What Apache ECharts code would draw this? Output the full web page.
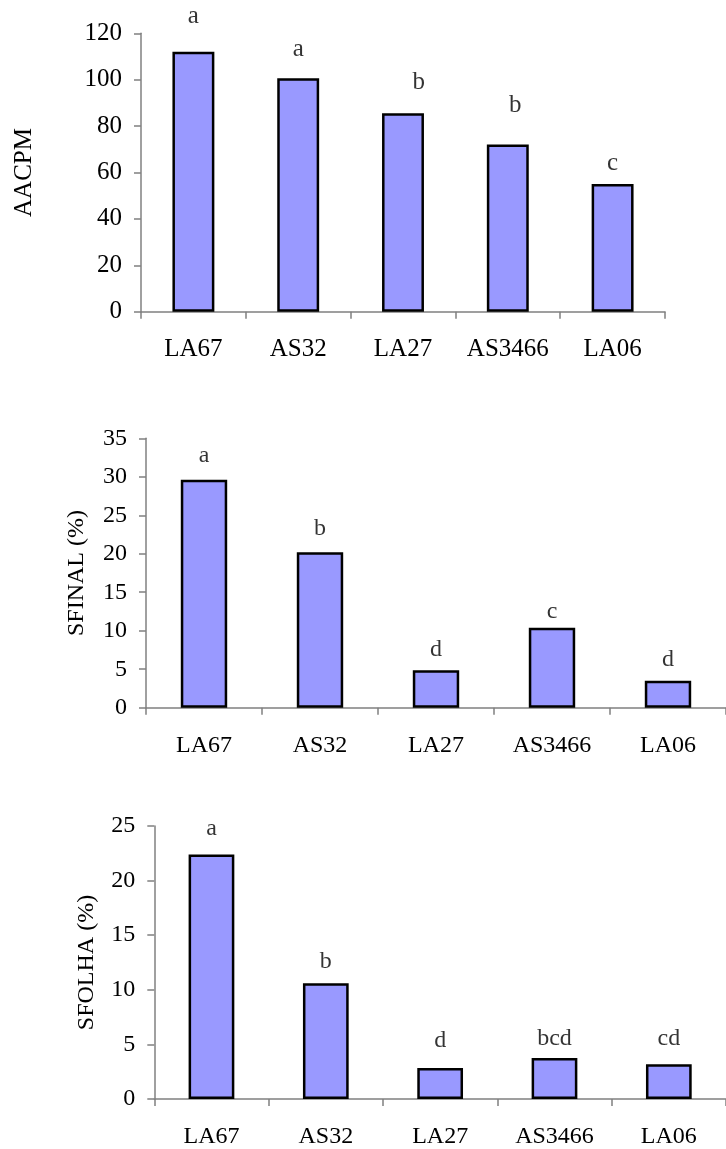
<!DOCTYPE html>
<html>
<head>
<meta charset="utf-8">
<script src="https://cdn.jsdelivr.net/npm/echarts@6/dist/echarts.min.js"></script>
<style>
html,body{margin:0;padding:0;background:#fff;}
#c{width:726px;height:1149px;}
</style>
</head>
<body>
<div id="c"></div>
<script>
const categories = ['LA67', 'AS32', 'LA27', 'AS3466', 'LA06'];

const aacpmValues = [112.1, 100.6, 85.5, 72.1, 55.0];
const sfinalValues = [29.6, 20.2, 4.85, 10.4, 3.5];
const sfolhaValues = [22.4, 10.6, 2.84, 3.75, 3.18];

const aacpmLetters = ['a', 'a', 'b', 'b', 'c'];
const sfinalLetters = ['a', 'b', 'd', 'c', 'd'];
const sfolhaLetters = ['a', 'b', 'd', 'bcd', 'cd'];

// letter positions (category index, value)
const aacpmLetterX = [0, 1, 2.15, 3.07, 4];
const aacpmLetterY = [127.1, 113.0, 98.9, 88.7, 63.9];
const sfinalLetterX = [0, 1, 2, 3, 4];
const sfinalLetterY = [32.7, 23.2, 7.5, 12.45, 6.2];
const sfolhaLetterX = [0, 1, 2, 3, 4];
const sfolhaLetterY = [24.76, 12.55, 5.3, 5.56, 5.56];

const yTicks1 = {min: 0, max: 120, interval: 20};
const yTicks2 = {min: 0, max: 35, interval: 5};
const yTicks3 = {min: 0, max: 25, interval: 5};

const FONT = '"Liberation Serif", "Times New Roman", serif';
const AXIS_COLOR = '#808080';

const panels = [
  {name: 'AACPM', values: aacpmValues, letters: aacpmLetters, lx: aacpmLetterX, ly: aacpmLetterY, ticks: yTicks1,
   grid: {left: 141, top: 33.3, width: 524, height: 278.4}, fs: 25, nameGap: 104, catMargin: 25},
  {name: 'SFINAL (%)', values: sfinalValues, letters: sfinalLetters, lx: sfinalLetterX, ly: sfinalLetterY, ticks: yTicks2,
   grid: {left: 146, top: 438.3, width: 580, height: 269.4}, fs: 24, nameGap: 57, catMargin: 26},
  {name: 'SFOLHA (%)', values: sfolhaValues, letters: sfolhaLetters, lx: sfolhaLetterX, ly: sfolhaLetterY, ticks: yTicks3,
   grid: {left: 154.3, top: 826, width: 579, height: 273}, fs: 24, nameGap: 56, catMargin: 26}
];

const grid = [], xAxis = [], yAxis = [], series = [];
panels.forEach((p, i) => {
  grid.push(Object.assign({containLabel: false}, p.grid));
  xAxis.push({
    type: 'category', gridIndex: i, data: categories,
    axisLine: {onZero: false, lineStyle: {color: AXIS_COLOR, width: 1.5}},
    axisTick: {show: true, length: 7, lineStyle: {color: AXIS_COLOR, width: 1.5}},
    axisLabel: {color: '#000', fontFamily: FONT, fontSize: p.fs, margin: p.catMargin, interval: 0},
    splitLine: {show: false}
  });
  xAxis.push({
    type: 'value', gridIndex: i, min: -0.5, max: 4.5, show: false,
    axisLine: {onZero: false}
  });
  yAxis.push({
    type: 'value', gridIndex: i, min: p.ticks.min, max: p.ticks.max, interval: p.ticks.interval,
    name: p.name, nameLocation: 'middle', nameGap: p.nameGap, nameRotate: 90,
    nameTextStyle: {color: '#000', fontFamily: FONT, fontSize: p.fs},
    axisLine: {show: true, onZero: false, lineStyle: {color: AXIS_COLOR, width: 1.5}},
    axisTick: {show: true, length: 7, lineStyle: {color: AXIS_COLOR, width: 1.5}},
    axisLabel: {color: '#000', fontFamily: FONT, fontSize: p.fs, margin: 19},
    splitLine: {show: false}
  });
  series.push({
    type: 'bar', xAxisIndex: i * 2, yAxisIndex: i, data: p.values,
    barWidth: '40%',
    itemStyle: {color: '#9999FF', borderColor: '#000', borderWidth: 2.5},
    silent: true, animation: false
  });
  series.push({
    type: 'scatter', xAxisIndex: i * 2 + 1, yAxisIndex: i,
    data: p.lx.map((x, k) => [x, p.ly[k]]),
    symbolSize: 0, clip: false, silent: true, animation: false,
    label: {
      show: true, position: 'inside', color: '#000', fontFamily: FONT, fontSize: p.fs,
      formatter: (params) => p.letters[params.dataIndex]
    }
  });
});

const chart = echarts.init(document.getElementById('c'), null, {renderer: 'canvas'});
chart.setOption({animation: false, backgroundColor: '#fff', grid, xAxis, yAxis, series});
</script>
</body>
</html>
